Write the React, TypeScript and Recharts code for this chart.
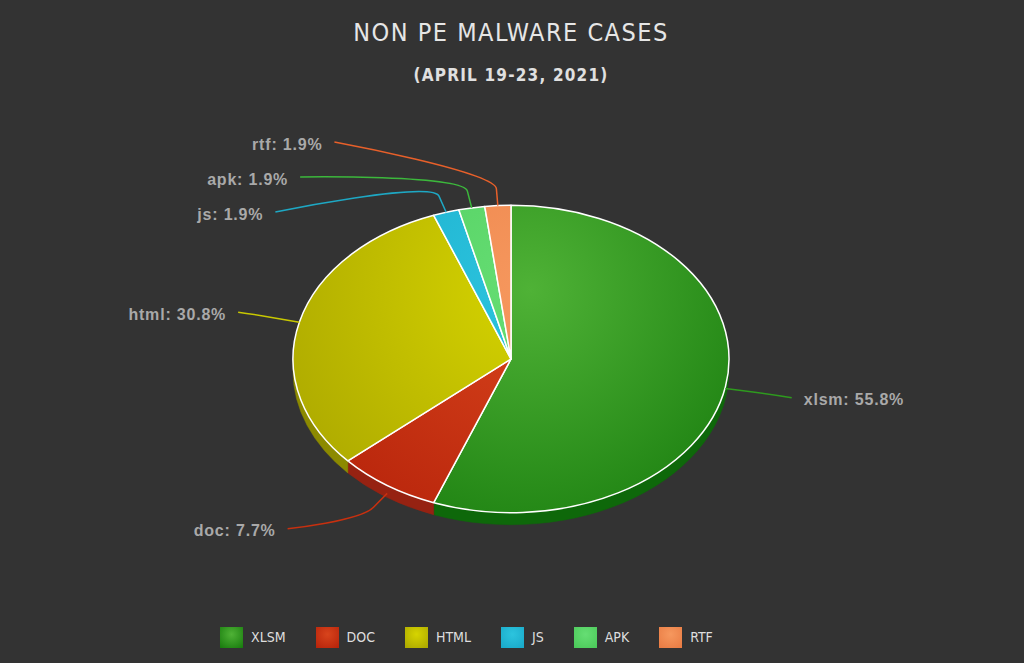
import { PieChart, Pie, Cell } from "recharts"

// data
const NAMES = ["xlsm", "doc", "html", "js", "apk", "rtf"]
const VALUES = [29, 4, 16, 1, 1, 1]
const TITLE = "NON PE MALWARE CASES"
const SUBTITLE = "(APRIL 19-23, 2021)"

// colours per slice
const LIGHT = ["#4fb236", "#d8441c", "#d6d400", "#2cc4de", "#66de74", "#f6985e"]
const DARK = ["#167a0c", "#b5220a", "#aaa600", "#18a8c8", "#4ac858", "#e87a42"]
const SIDE = ["#0e680a", "#962212", "#8c8a00", "#1488a0", "#3aa848", "#c86430"]
const LINE = ["#2e9a1e", "#c8300f", "#c8c800", "#1ea8c4", "#3cb83c", "#e8602a"]

const W = 1024
const H = 663
const CX = 511
const CY = 359
const RX = 218
const K = 0.705 // vertical squash of the tilted pie
const DEPTH = 12
const RAD = Math.PI / 180
const CONDENSED = "'DejaVu Sans Condensed', 'DejaVu Sans', sans-serif"

const TOTAL = VALUES.reduce((a, b) => a + b, 0)
const pieData = NAMES.map((name, i) => ({ name, value: VALUES[i] }))

// label layout (highcharts-like: on a circle, spread apart when crowded)
const LR = 289
const LCY = CY + 4
const GAP = 35
const TOP = 144
const BOTTOM = 560
const MIDS = VALUES.map((v, i) => {
  const before = VALUES.slice(0, i).reduce((a, b) => a + b, 0)
  return 90 - ((before + v / 2) / TOTAL) * 360
})

function spread(idx: number[]) {
  const out: Record<number, number> = {}
  const sorted = idx
    .map(i => ({ i, ny: LCY - LR * K * Math.sin(MIDS[i] * RAD) }))
    .sort((a, b) => a.ny - b.ny)
  const place = (c: any) => {
    const n = c.members.length
    const mean = c.members.reduce((s: number, m: any) => s + m.ny, 0) / n
    let top = mean - ((n - 1) / 2) * GAP
    top = Math.max(TOP, Math.min(top, BOTTOM - (n - 1) * GAP))
    c.top = top
  }
  const clusters: any[] = sorted.map(s => ({ members: [s], top: s.ny }))
  clusters.forEach(place)
  let merged = true
  while (merged) {
    merged = false
    for (let k = 0; k < clusters.length - 1; k++) {
      const a = clusters[k]
      const b = clusters[k + 1]
      if (b.top - (a.top + (a.members.length - 1) * GAP) < GAP) {
        a.members = a.members.concat(b.members)
        place(a)
        clusters.splice(k + 1, 1)
        merged = true
        break
      }
    }
  }
  clusters.forEach(c => c.members.forEach((m: any, j: number) => (out[m.i] = c.top + j * GAP)))
  return out
}

const LEFT_IDX = NAMES.map((_, i) => i).filter(i => Math.cos(MIDS[i] * RAD) < 0)
const RIGHT_IDX = NAMES.map((_, i) => i).filter(i => Math.cos(MIDS[i] * RAD) >= 0)
const LABEL_Y = { ...spread(LEFT_IDX), ...spread(RIGHT_IDX) }

function Slice3D(props: any) {
  const { cx, cy, outerRadius, startAngle, endAngle } = props
  const i = NAMES.indexOf(props.name ?? props.payload?.name)
  const rx = outerRadius
  const ry = outerRadius * K
  const pt = (a: number, dy = 0) => `${cx + rx * Math.cos(a * RAD)},${cy - ry * Math.sin(a * RAD) + dy}`
  const hi = Math.max(startAngle, endAngle)
  const lo = Math.min(startAngle, endAngle)
  const large = hi - lo > 180 ? 1 : 0
  const top = `M${cx},${cy} L${pt(hi)} A${rx},${ry} 0 ${large} 1 ${pt(lo)} Z`
  const s1 = Math.min(hi, 0)
  const s2 = Math.max(lo, -180)
  const side =
    s1 > s2
      ? `M${pt(s1)} A${rx},${ry} 0 0 1 ${pt(s2)} L${pt(s2, DEPTH)} A${rx},${ry} 0 0 0 ${pt(s1, DEPTH)} Z`
      : null
  return (
    <g>
      {side && <path d={side} fill={SIDE[i]} stroke={SIDE[i]} strokeWidth={0.5} />}
      <path d={top} fill={`url(#grad-${i})`} stroke="#ffffff" strokeWidth={1.5} strokeLinejoin="round" />
    </g>
  )
}

function renderLabel(props: any) {
  const i = NAMES.indexOf(props.name ?? props.payload?.name)
  const mid = MIDS[i]
  const c = Math.cos(mid * RAD)
  const s = Math.sin(mid * RAD)
  const left = c < 0
  const y = LABEL_Y[i]
  const r = left ? LR : LR + 6
  const dy = Math.min(Math.abs(y - LCY), r)
  const x = CX + (left ? -1 : 1) * Math.sqrt(r * r - dy * dy)
  const ax = CX + RX * c
  const ay = CY - RX * K * s + (s < 0 ? -s * DEPTH * 0.8 : 0)
  const bx = CX + (RX + 24) * c
  const by = CY - (RX + 24) * K * s + (s < 0 ? -s * DEPTH * 0.8 : 0)
  const sx = x + (left ? 12 : -12)
  const sy = y - 2
  const pct = ((VALUES[i] / TOTAL) * 100).toFixed(1)
  return (
    <g key={`lbl-${i}`}>
      <path
        d={`M${sx},${sy} C${sx},${sy} ${2 * bx - ax},${2 * by - ay} ${bx},${by} L${ax},${ay}`}
        fill="none"
        stroke={LINE[i]}
        strokeWidth={1.5}
      />
      <text
        x={x}
        y={y}
        dy="0.35em"
        textAnchor={left ? "end" : "start"}
        style={{ fontFamily: "Liberation Sans, Arial, sans-serif", fontSize: 16, fontWeight: 700, fill: "#a9a9a9", letterSpacing: 0.8 }}
      >
        {`${NAMES[i]}: ${pct}%`}
      </text>
    </g>
  )
}

export default function App() {
  return (
    <div style={{ position: "absolute", left: 0, top: 0, width: W, height: H, background: "#333333", overflow: "hidden" }}>
      <svg width={0} height={0} style={{ position: "absolute" }}>
        <defs>
          {NAMES.map((_, i) => (
            <radialGradient key={i} id={`grad-${i}`} gradientUnits="userSpaceOnUse" cx={530} cy={290} r={300}>
              <stop offset="0%" stopColor={LIGHT[i]} />
              <stop offset="100%" stopColor={DARK[i]} />
            </radialGradient>
          ))}
        </defs>
      </svg>

      <svg width={W} height={110} style={{ position: "absolute", left: 0, top: 0 }}>
        <text x={511} y={41} textAnchor="middle" style={{ fontFamily: CONDENSED, fontStretch: "condensed", fontSize: 25, fill: "#e6e6e6", letterSpacing: 1.5 }}>
          {TITLE}
        </text>
        <text x={511} y={81} textAnchor="middle" style={{ fontFamily: CONDENSED, fontStretch: "condensed", fontSize: 17, fontWeight: 700, fill: "#e0e0e0", letterSpacing: 1.2 }}>
          {SUBTITLE}
        </text>
      </svg>

      <div style={{ position: "absolute", left: 0, top: 0 }}>
        <PieChart width={W} height={H} margin={{ top: 0, right: 0, bottom: 0, left: 0 }}>
          <Pie
            data={pieData}
            dataKey="value"
            nameKey="name"
            cx={CX}
            cy={CY}
            outerRadius={RX}
            startAngle={90}
            endAngle={-270}
            shape={Slice3D}
            label={renderLabel}
            labelLine={false}
            isAnimationActive={false}
          >
            {pieData.map((_, i) => (
              <Cell key={i} fill={LINE[i]} />
            ))}
          </Pie>
        </PieChart>
      </div>

      <div style={{ position: "absolute", left: 220, top: 627, display: "flex", gap: 30 }}>
        {NAMES.map((name, i) => (
          <div key={name} style={{ display: "flex", alignItems: "center" }}>
            <div
              style={{
                width: 23,
                height: 21,
                marginRight: 8,
                background: `radial-gradient(circle at 50% 35%, ${LIGHT[i]}, ${DARK[i]})`,
              }}
            />
            <span style={{ fontFamily: CONDENSED, fontStretch: "condensed", fontSize: 14, color: "#dedede", lineHeight: "21px" }}>
              {name.toUpperCase()}
            </span>
          </div>
        ))}
      </div>
    </div>
  )
}
